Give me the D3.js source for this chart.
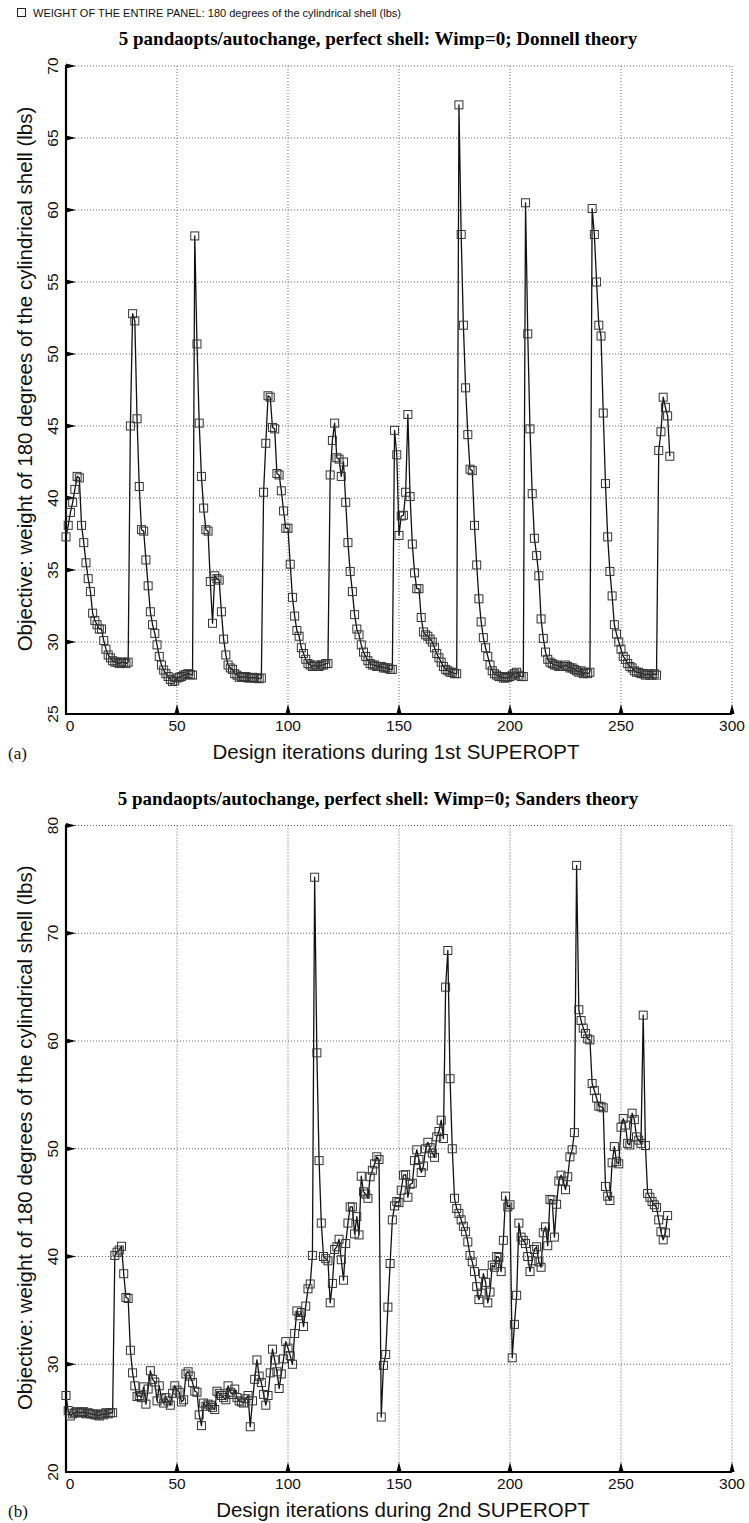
<!DOCTYPE html>
<html>
<head>
<meta charset="utf-8">
<script src="https://cdn.jsdelivr.net/npm/d3@7"></script>
<style>
body { margin: 0; background: #fff; }
svg { display: block; background: #fff; }
</style>
</head>
<body>
<svg id="chart" width="749" height="1523"></svg>
<script>
var legendLabel = "WEIGHT OF THE ENTIRE PANEL: 180 degrees of the cylindrical shell (lbs)";
var yLabel = "Objective: weight of 180 degrees of the cylindrical shell (lbs)";
var titles = ["5 pandaopts/autochange, perfect shell: Wimp=0; Donnell theory",
              "5 pandaopts/autochange, perfect shell: Wimp=0; Sanders theory"];
var xLabels = ["Design iterations during 1st SUPEROPT", "Design iterations during 2nd SUPEROPT"];
var panelTags = ["(a)", "(b)"];

var xTicks = [0, 50, 100, 150, 200, 250, 300];
var yTicksA = [25, 30, 35, 40, 45, 50, 55, 60, 65, 70];
var yTicksB = [20, 30, 40, 50, 60, 70, 80];

// one value per design iteration, index = iteration number
var weightsDonnell = [
  37.3, 38.1, 39.0, 39.7, 40.6, 41.5, 41.4, 38.1, 36.9, 35.5, 34.4, 33.5, 32.0, 31.5, 31.2,
  30.9, 30.9, 30.1, 29.5, 29.1, 28.9, 28.7, 28.6, 28.6, 28.5, 28.6, 28.6, 28.5, 28.6,
  45.0, 52.8, 52.3, 45.5, 40.8, 37.8, 37.7, 35.7, 33.9, 32.1, 31.2, 30.6, 29.8, 29.0, 28.4,
  28.05, 27.8, 27.6, 27.4, 27.25, 27.3, 27.5, 27.55, 27.6, 27.7, 27.75, 27.8, 27.75, 27.7,
  58.2, 50.7, 45.2, 41.5, 39.3, 37.8, 37.7, 34.2, 31.3, 34.6, 34.4, 34.3, 32.1, 30.2, 29.1,
  28.4, 28.2, 28.1, 27.8, 27.7, 27.55, 27.6, 27.55, 27.6, 27.5, 27.5, 27.55, 27.5, 27.5, 27.45, 27.5,
  40.4, 43.8, 47.1, 47.0, 44.9, 44.8, 41.7, 41.6, 40.5, 39.1, 37.9, 37.9, 35.4, 33.1, 31.8,
  30.8, 30.4, 29.6, 29.2, 28.8, 28.5, 28.4, 28.3, 28.4, 28.3, 28.3, 28.4, 28.4, 28.5, 28.5,
  41.6, 44.0, 45.2, 42.8, 42.7, 41.5, 42.5, 39.7, 36.9, 34.9, 33.5, 31.9, 30.9, 30.5, 29.8,
  29.3, 29.0, 28.7, 28.5, 28.4, 28.4, 28.3, 28.3, 28.3, 28.2, 28.2, 28.2, 28.1, 28.1,
  44.7, 43.0, 37.4, 38.75, 38.8, 40.4, 45.8, 40.1, 36.8, 34.8, 33.7, 33.7, 31.7, 30.7, 30.5,
  30.4, 30.2, 30.0, 29.6, 29.2, 28.9, 28.6, 28.3, 28.1, 28.0, 27.9, 27.9, 27.8, 27.8,
  67.3, 58.3, 52.0, 47.65, 44.4, 42.0, 41.9, 38.1, 35.35, 33.0, 31.4, 30.3, 29.6, 29.0, 28.4,
  28.0, 27.8, 27.7, 27.6, 27.6, 27.5, 27.5, 27.55, 27.6, 27.7, 27.8, 27.9, 27.7, 27.6, 27.6,
  60.5, 51.4, 44.8, 40.3, 37.2, 36.0, 34.6, 31.6, 30.25, 29.3, 28.8, 28.6, 28.5, 28.4, 28.4,
  28.3, 28.3, 28.3, 28.4, 28.3, 28.2, 28.2, 28.1, 28.0, 27.9, 28.0, 27.8, 27.9, 27.8, 27.9,
  60.1, 58.3, 55.0, 52.0, 51.25, 45.9, 41.0, 37.3, 34.9, 33.2, 31.2, 30.55, 30.0, 29.5, 29.0,
  28.8, 28.5, 28.3, 28.2, 28.0, 27.9, 27.9, 27.8, 27.8, 27.7, 27.8, 27.7, 27.7, 27.8, 27.7,
  43.3, 44.6, 47.0, 46.3, 45.7, 42.9
];

var weightsSanders = [
  27.1, 25.7, 25.2, 25.4, 25.5, 25.6, 25.5, 25.5, 25.6, 25.4, 25.5, 25.4, 25.4, 25.3, 25.3,
  25.2, 25.4, 25.3, 25.5, 25.4, 25.5, 25.5,
  40.1, 40.4, 40.6, 40.95, 38.4, 36.2, 36.1, 31.3, 29.2, 28.0,
  27.0, 27.1, 26.9, 27.9, 26.3, 27.7, 29.4, 28.6, 28.35, 26.6, 28.0, 26.8, 26.4, 26.9, 26.6,
  26.2, 27.3, 28.0, 27.6, 27.4, 26.5, 26.7, 29.1, 29.3, 28.9, 28.3, 27.5, 27.4,
  25.3, 24.3, 26.4, 26.1, 26.3, 26.2, 26.0, 25.8, 27.5, 27.3, 27.1, 26.9, 26.7, 28.0, 27.4,
  27.2, 27.7, 26.9, 26.6, 26.5, 26.4, 26.8, 27.1, 24.2, 26.6,
  28.6, 30.4, 28.9, 28.3, 27.2, 26.2, 27.1, 29.2, 31.4, 30.4, 29.3, 27.75, 29.1, 30.5, 32.1,
  31.5, 30.8, 30.0, 32.85, 34.95, 34.5, 34.8, 33.5, 35.4, 37.0, 37.45, 40.1,
  75.2, 58.9, 48.9, 43.1, 40.0, 39.8, 39.6, 35.7, 37.5, 40.65, 40.9, 41.6, 39.7, 37.8, 41.2,
  43.1, 44.6, 44.6, 42.1, 43.7, 42.0, 47.45, 46.0, 45.8, 45.4, 47.4, 48.0, 48.6, 49.25, 49.0,
  25.1, 29.9, 30.9, 35.3, 39.35, 43.4, 44.7, 45.1, 45.0, 46.15, 47.55, 47.6, 45.5, 46.7, 46.8,
  48.9, 49.9, 49.0, 47.8, 48.4, 50.0, 50.6, 50.1, 49.6, 49.2, 51.1, 51.6, 52.65, 50.95,
  65.0, 68.4, 56.5, 50.0, 45.4, 44.45, 44.0, 43.4, 42.8, 42.3, 41.35, 40.1, 39.5, 38.6, 37.2,
  36.0, 36.6, 38.4, 37.6, 35.7, 36.7, 39.2, 39.0, 40.0, 39.9, 38.6, 41.5, 45.6, 44.6, 44.8,
  30.6, 33.7, 36.4, 43.1, 41.8, 41.5, 41.2, 40.0, 38.6, 39.6, 40.65, 40.9, 39.5, 39.0, 42.2,
  42.75, 41.0, 45.3, 45.25, 41.8, 44.85, 47.0, 47.55, 47.0, 46.2, 47.4, 49.25, 49.9, 51.5,
  76.3, 62.9, 61.9, 61.2, 60.7, 60.2, 60.1, 56.05, 55.4, 54.7, 53.95, 53.9, 53.8, 46.5, 45.6, 45.2,
  48.7, 50.2, 48.8, 48.6, 52.0, 52.8, 52.2, 50.5, 50.35, 53.3, 52.7, 51.1, 50.8, 50.5, 62.4,
  50.3, 45.85, 45.5, 45.1, 44.8, 44.55, 43.4, 42.3, 41.55, 42.2, 43.8
];

var sans = "'Liberation Sans', Arial, Helvetica, sans-serif";
var serif = "'Liberation Serif', 'Times New Roman', serif";

var svg = d3.select("#chart");

// legend line at the very top
svg.append("rect")
    .attr("x", 17.5).attr("y", 8.5)
    .attr("width", 8).attr("height", 8)
    .attr("fill", "none").attr("stroke", "#222");
svg.append("text")
    .attr("x", 33).attr("y", 17)
    .style("font-family", sans).style("font-size", "11px")
    .attr("fill", "#111")
    .text(legendLabel);

function drawPanel(opt) {
  var left = 66, right = 732;
  var x = d3.scaleLinear().domain([0, 300]).range([left, right]);
  var y = d3.scaleLinear().domain([opt.yTicks[0], opt.yTicks[opt.yTicks.length - 1]])
      .range([opt.bottom, opt.top]);
  var g = svg.append("g");

  // dotted grid
  g.selectAll(".vgrid").data(xTicks.slice(1)).enter().append("line")
      .attr("x1", function (d) { return x(d); }).attr("x2", function (d) { return x(d); })
      .attr("y1", opt.top).attr("y2", opt.bottom)
      .attr("stroke", "#666").attr("stroke-width", 1).attr("stroke-dasharray", "1,2");
  g.selectAll(".hgrid").data(opt.yTicks.slice(1)).enter().append("line")
      .attr("x1", left).attr("x2", right)
      .attr("y1", function (d) { return y(d); }).attr("y2", function (d) { return y(d); })
      .attr("stroke", "#666").attr("stroke-width", 1).attr("stroke-dasharray", "1,2");

  // solid left and bottom axes
  g.append("line").attr("x1", left).attr("x2", left).attr("y1", opt.top - 1).attr("y2", opt.bottom + 1)
      .attr("stroke", "#000").attr("stroke-width", 2.2);
  g.append("line").attr("x1", left - 1).attr("x2", right).attr("y1", opt.bottom).attr("y2", opt.bottom)
      .attr("stroke", "#000").attr("stroke-width", 2.2);

  // triangular tick marks
  g.selectAll(".ytick").data(opt.yTicks.slice(1)).enter().append("path")
      .attr("d", function (d) {
        var yy = y(d);
        return "M" + left + "," + (yy - 2.6) + "L" + (left + 10) + "," + yy + "L" + left + "," + (yy + 2.6) + "Z";
      })
      .attr("fill", "#000");
  g.selectAll(".xtick").data(xTicks.slice(1)).enter().append("path")
      .attr("d", function (d) {
        var xx = x(d);
        return "M" + (xx - 2.6) + "," + opt.bottom + "L" + xx + "," + (opt.bottom - 10) + "L" + (xx + 2.6) + "," + opt.bottom + "Z";
      })
      .attr("fill", "#000");

  // tick labels
  g.selectAll(".ylab").data(opt.yTicks).enter().append("text")
      .attr("transform", function (d) { return "translate(58," + y(d) + ") rotate(-90)"; })
      .attr("text-anchor", "middle")
      .style("font-family", sans).style("font-size", "15.5px")
      .attr("fill", "#111")
      .text(function (d) { return d; });
  g.selectAll(".xlab").data(xTicks).enter().append("text")
      .attr("x", function (d) { return x(d) + (d === 0 ? 4 : 0); })
      .attr("y", opt.bottom + 17)
      .attr("text-anchor", "middle")
      .style("font-family", sans).style("font-size", "15.5px")
      .attr("fill", "#111")
      .text(function (d) { return d; });

  // axis titles
  g.append("text")
      .attr("transform", "translate(32," + ((opt.top + opt.bottom) / 2 - 11) + ") rotate(-90)")
      .attr("text-anchor", "middle")
      .style("font-family", sans).style("font-size", "20.5px")
      .attr("fill", "#111")
      .text(yLabel);
  g.append("text")
      .attr("x", opt.xTitleX).attr("y", opt.bottom + 45)
      .attr("text-anchor", "middle")
      .style("font-family", sans).style("font-size", "20.5px")
      .attr("fill", "#111")
      .text(opt.xLabel);
  g.append("text")
      .attr("x", 8).attr("y", opt.bottom + 45)
      .style("font-family", serif).style("font-size", "17px")
      .attr("fill", "#111")
      .text(opt.tag);
  g.append("text")
      .attr("x", 378).attr("y", opt.top - 21)
      .attr("text-anchor", "middle")
      .style("font-family", serif).style("font-size", "19px").style("font-weight", "bold")
      .attr("fill", "#000")
      .text(opt.title);

  // the series
  var line = d3.line()
      .x(function (d, i) { return x(i); })
      .y(function (d) { return y(d); });

  g.append("path")
      .datum(opt.values)
      .attr("fill", "none")
      .attr("stroke", "#111")
      .attr("stroke-width", 1.3)
      .attr("stroke-linejoin", "round")
      .attr("d", line);

  g.selectAll(".mark").data(opt.values).enter().append("rect")
      .attr("x", function (d, i) { return x(i) - 4; })
      .attr("y", function (d) { return y(d) - 4; })
      .attr("width", 8).attr("height", 8)
      .attr("fill", "none")
      .attr("stroke", "#333")
      .attr("stroke-width", 1);
}

drawPanel({
  values: weightsDonnell, yTicks: yTicksA, top: 66, bottom: 714,
  title: titles[0], xLabel: xLabels[0], tag: panelTags[0], xTitleX: 396
});
drawPanel({
  values: weightsSanders, yTicks: yTicksB, top: 825.5, bottom: 1472,
  title: titles[1], xLabel: xLabels[1], tag: panelTags[1], xTitleX: 403
});
</script>
</body>
</html>
